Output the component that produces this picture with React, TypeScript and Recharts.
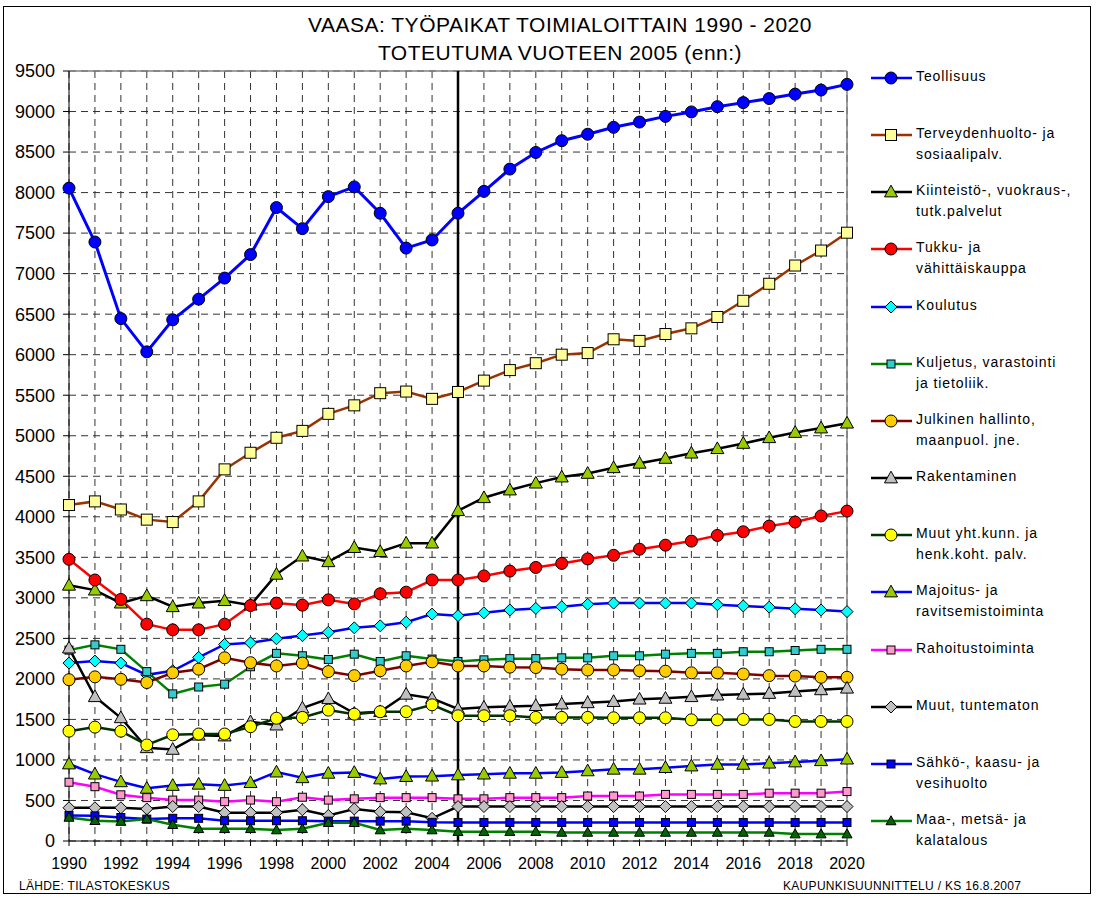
import React from 'react';
import { LineChart, Line, XAxis, YAxis, CartesianGrid, ReferenceLine } from 'recharts';

const years = [1990, 1991, 1992, 1993, 1994, 1995, 1996, 1997, 1998, 1999, 2000, 2001, 2002, 2003, 2004, 2005, 2006, 2007, 2008, 2009, 2010, 2011, 2012, 2013, 2014, 2015, 2016, 2017, 2018, 2019, 2020];
const yTicks = [0, 500, 1000, 1500, 2000, 2500, 3000, 3500, 4000, 4500, 5000, 5500, 6000, 6500, 7000, 7500, 8000, 8500, 9000, 9500];

const teollisuus = [8055, 7390, 6445, 6035, 6430, 6685, 6945, 7235, 7815, 7555, 7950, 8070, 7745, 7315, 7415, 7745, 8015, 8290, 8495, 8640, 8720, 8805, 8870, 8940, 8995, 9060, 9110, 9160, 9215, 9265, 9335];
const terveys = [4145, 4190, 4090, 3965, 3935, 4190, 4585, 4790, 4975, 5060, 5270, 5375, 5525, 5545, 5455, 5540, 5680, 5810, 5895, 6000, 6020, 6190, 6170, 6255, 6325, 6465, 6665, 6875, 7100, 7285, 7505];
const kiinteisto = [3155, 3095, 2935, 3025, 2890, 2935, 2965, 2910, 3290, 3515, 3445, 3620, 3570, 3675, 3675, 4075, 4235, 4330, 4415, 4490, 4535, 4605, 4660, 4720, 4785, 4840, 4905, 4975, 5040, 5095, 5155];
const tukku = [3475, 3220, 2980, 2675, 2605, 2605, 2675, 2905, 2935, 2910, 2975, 2925, 3050, 3070, 3220, 3220, 3270, 3330, 3375, 3425, 3480, 3525, 3600, 3650, 3700, 3770, 3815, 3885, 3935, 4010, 4070];
const koulutus = [2195, 2220, 2195, 2050, 2100, 2265, 2425, 2445, 2495, 2535, 2575, 2630, 2655, 2700, 2800, 2780, 2815, 2850, 2870, 2890, 2920, 2935, 2935, 2935, 2935, 2915, 2900, 2885, 2865, 2850, 2830];
const kuljetus = [2355, 2420, 2365, 2090, 1815, 1900, 1935, 2150, 2315, 2285, 2240, 2305, 2215, 2285, 2245, 2215, 2235, 2250, 2250, 2260, 2260, 2285, 2285, 2305, 2315, 2315, 2335, 2335, 2350, 2365, 2365];
const julkinen = [1990, 2025, 1995, 1955, 2075, 2120, 2260, 2200, 2160, 2195, 2090, 2040, 2100, 2160, 2210, 2160, 2160, 2145, 2140, 2120, 2110, 2110, 2100, 2095, 2075, 2075, 2060, 2040, 2035, 2020, 2020];
const rakentaminen = [2380, 1780, 1520, 1150, 1130, 1305, 1295, 1470, 1430, 1640, 1755, 1575, 1595, 1810, 1760, 1630, 1650, 1660, 1670, 1690, 1705, 1720, 1750, 1760, 1780, 1800, 1810, 1820, 1845, 1865, 1885];
const muutYht = [1355, 1405, 1355, 1185, 1310, 1320, 1320, 1410, 1515, 1525, 1615, 1565, 1595, 1595, 1680, 1545, 1545, 1545, 1525, 1525, 1525, 1520, 1520, 1520, 1495, 1495, 1500, 1500, 1475, 1475, 1475];
const majoitus = [950, 825, 730, 650, 685, 700, 685, 720, 850, 780, 835, 845, 765, 795, 800, 815, 825, 835, 835, 845, 865, 885, 885, 905, 925, 945, 945, 960, 975, 990, 1010];
const rahoitus = [725, 670, 570, 535, 505, 505, 485, 505, 485, 540, 505, 520, 535, 535, 535, 520, 520, 535, 535, 535, 555, 555, 555, 575, 575, 575, 575, 590, 590, 590, 610];
const muutTunt = [410, 410, 410, 395, 425, 425, 350, 350, 350, 385, 315, 395, 360, 355, 280, 425, 425, 425, 425, 425, 425, 425, 425, 425, 425, 425, 425, 425, 425, 425, 425];
const sahko = [315, 310, 290, 270, 280, 280, 250, 250, 250, 250, 245, 245, 245, 245, 230, 228, 228, 228, 228, 228, 228, 228, 228, 228, 228, 228, 228, 228, 228, 228, 228];
const maa = [290, 250, 240, 270, 200, 150, 150, 150, 135, 150, 225, 225, 135, 150, 135, 115, 115, 115, 115, 105, 105, 105, 105, 105, 105, 105, 105, 105, 85, 85, 85];

type Shape = 'circle' | 'square' | 'triangle' | 'diamond';
interface SeriesDef { key: string; label: string[]; values: number[]; stroke: string; width: number; shape: Shape; size: number; fill: string; }

const series: SeriesDef[] = [
  { key: 'teollisuus', label: ['Teollisuus'], values: teollisuus, stroke: '#0000FF', width: 3, shape: 'circle', size: 12, fill: '#0000FF' },
  { key: 'terveys', label: ['Terveydenhuolto- ja', 'sosiaalipalv.'], values: terveys, stroke: '#993300', width: 2.5, shape: 'square', size: 11, fill: '#FFFF99' },
  { key: 'kiinteisto', label: ['Kiinteistö-, vuokraus-,', 'tutk.palvelut'], values: kiinteisto, stroke: '#000000', width: 2.5, shape: 'triangle', size: 13, fill: '#99CC00' },
  { key: 'tukku', label: ['Tukku- ja', 'vähittäiskauppa'], values: tukku, stroke: '#FF0000', width: 2.5, shape: 'circle', size: 12, fill: '#FF0000' },
  { key: 'koulutus', label: ['Koulutus'], values: koulutus, stroke: '#0000FF', width: 2.5, shape: 'diamond', size: 12, fill: '#00FFFF' },
  { key: 'kuljetus', label: ['Kuljetus, varastointi', 'ja tietoliik.'], values: kuljetus, stroke: '#008000', width: 2.5, shape: 'square', size: 8, fill: '#33CCCC' },
  { key: 'julkinen', label: ['Julkinen hallinto,', 'maanpuol. jne.'], values: julkinen, stroke: '#800000', width: 2.5, shape: 'circle', size: 12, fill: '#FFCC00' },
  { key: 'rakentaminen', label: ['Rakentaminen'], values: rakentaminen, stroke: '#000000', width: 2.5, shape: 'triangle', size: 13, fill: '#C0C0C0' },
  { key: 'muutYht', label: ['Muut yht.kunn. ja', 'henk.koht. palv.'], values: muutYht, stroke: '#003300', width: 2.5, shape: 'circle', size: 12, fill: '#FFFF00' },
  { key: 'majoitus', label: ['Majoitus- ja', 'ravitsemistoiminta'], values: majoitus, stroke: '#0000FF', width: 2.5, shape: 'triangle', size: 13, fill: '#99CC00' },
  { key: 'rahoitus', label: ['Rahoitustoiminta'], values: rahoitus, stroke: '#FF00FF', width: 2.5, shape: 'square', size: 8, fill: '#FF99CC' },
  { key: 'muutTunt', label: ['Muut, tuntematon'], values: muutTunt, stroke: '#000000', width: 2.5, shape: 'diamond', size: 12, fill: '#C0C0C0' },
  { key: 'sahko', label: ['Sähkö-, kaasu- ja', 'vesihuolto'], values: sahko, stroke: '#0000FF', width: 2.5, shape: 'square', size: 8, fill: '#0000FF' },
  { key: 'maa', label: ['Maa-, metsä- ja', 'kalatalous'], values: maa, stroke: '#008000', width: 2.5, shape: 'triangle', size: 10, fill: '#006600' },
];

const data = years.map((year, i) => {
  const row: Record<string, number> = { year };
  series.forEach((s) => { row[s.key] = s.values[i]; });
  return row;
});

function Marker({ shape, cx, cy, size, fill }: { shape: Shape; cx: number; cy: number; size: number; fill: string }) {
  const h = size / 2;
  if (shape === 'circle') return <circle cx={cx} cy={cy} r={h} fill={fill} stroke="#000" strokeWidth={1} />;
  if (shape === 'square') return <rect x={cx - h} y={cy - h} width={size} height={size} fill={fill} stroke="#000" strokeWidth={1} />;
  if (shape === 'diamond') return <polygon points={`${cx},${cy - h} ${cx + h},${cy} ${cx},${cy + h} ${cx - h},${cy}`} fill={fill} stroke="#000" strokeWidth={1} />;
  return <polygon points={`${cx},${cy - h * 1.05} ${cx + h},${cy + h * 0.75} ${cx - h},${cy + h * 0.75}`} fill={fill} stroke="#000" strokeWidth={1} />;
}

const makeDot = (s: SeriesDef) => (props: any) => {
  const { cx, cy, index } = props;
  if (cx == null || cy == null) return <g key={`${s.key}-${index}`} />;
  return (
    <g key={`${s.key}-${index}`}>
      <Marker shape={s.shape} cx={cx} cy={cy} size={s.size} fill={s.fill} />
    </g>
  );
};

const FONT = '"Liberation Sans", Arial, sans-serif';

function LegendBlock() {
  const startY = 78;
  const step = 57.15;
  return (
    <div style={{ position: 'absolute', left: 0, top: 0 }}>
      {series.map((s, i) => {
        const y = startY + i * step;
        return (
          <div key={s.key}>
            <svg style={{ position: 'absolute', left: 866, top: y - 10 }} width={50} height={20}>
              <line x1={5} y1={10} x2={46} y2={10} stroke={s.stroke} strokeWidth={2.5} />
              <Marker shape={s.shape} cx={25} cy={10} size={s.size} fill={s.fill} />
            </svg>
            <div style={{ position: 'absolute', left: 916, top: y - 12, fontFamily: FONT, fontSize: 14, letterSpacing: 0.9, lineHeight: '21px', color: '#000', whiteSpace: 'nowrap' }}>
              {s.label.map((l, j) => <div key={j}>{l}</div>)}
            </div>
          </div>
        );
      })}
    </div>
  );
}

export default function App() {
  return (
    <div style={{ position: 'absolute', left: 0, top: 0, width: 1096, height: 898, background: '#fff', fontFamily: FONT }}>
      <div style={{ position: 'absolute', left: 3, top: 6, width: 1088, height: 888, border: '1px solid #000', boxSizing: 'border-box' }} />
      <div style={{ position: 'absolute', left: 0, width: 1120, top: 11, textAlign: 'center', fontSize: 21, letterSpacing: 0.5, lineHeight: '28px', color: '#000' }}>
        <div>VAASA: TYÖPAIKAT TOIMIALOITTAIN 1990 - 2020</div>
        <div>TOTEUTUMA VUOTEEN 2005 (enn:)</div>
      </div>
      <div style={{ position: 'absolute', left: 0, top: 0 }}>
        <LineChart width={1096} height={898} data={data} margin={{ top: 71, right: 249, bottom: 27, left: 0 }}>
          <CartesianGrid stroke="#333" strokeDasharray="7 5" strokeWidth={1} />
          <XAxis
            dataKey="year"
            type="number"
            domain={[1990, 2020]}
            ticks={years}
            interval={0}
            height={30}
            tickSize={5}
            tickMargin={12}
            tickFormatter={(v: number) => (v % 2 === 0 ? String(v) : '')}
            stroke="#000"
            tick={{ fill: '#000', fontSize: 16, fontFamily: FONT }}
          />
          <YAxis
            type="number"
            domain={[0, 9500]}
            ticks={yTicks}
            interval={0}
            width={69}
            tickSize={6}
            tickMargin={8}
            stroke="#000"
            tick={{ fill: '#000', fontSize: 18, fontFamily: FONT }}
          />
          <ReferenceLine y={9500} stroke="#808080" strokeWidth={1.5} />
          <ReferenceLine x={2020} stroke="#808080" strokeWidth={1.5} />
          <ReferenceLine x={2005} stroke="#000" strokeWidth={2.5} />
          {series.map((s) => (
            <Line
              key={s.key}
              dataKey={s.key}
              type="linear"
              stroke={s.stroke}
              strokeWidth={s.width}
              dot={makeDot(s)}
              activeDot={false}
              isAnimationActive={false}
            />
          ))}
        </LineChart>
      </div>
      <LegendBlock />
      <div style={{ position: 'absolute', left: 19, top: 879, fontSize: 12, letterSpacing: 0.3, color: '#000', whiteSpace: 'nowrap' }}>LÄHDE: TILASTOKESKUS</div>
      <div style={{ position: 'absolute', left: 783, top: 879, fontSize: 12, letterSpacing: 0.3, color: '#000', whiteSpace: 'nowrap' }}>KAUPUNKISUUNNITTELU / KS 16.8.2007</div>
    </div>
  );
}
